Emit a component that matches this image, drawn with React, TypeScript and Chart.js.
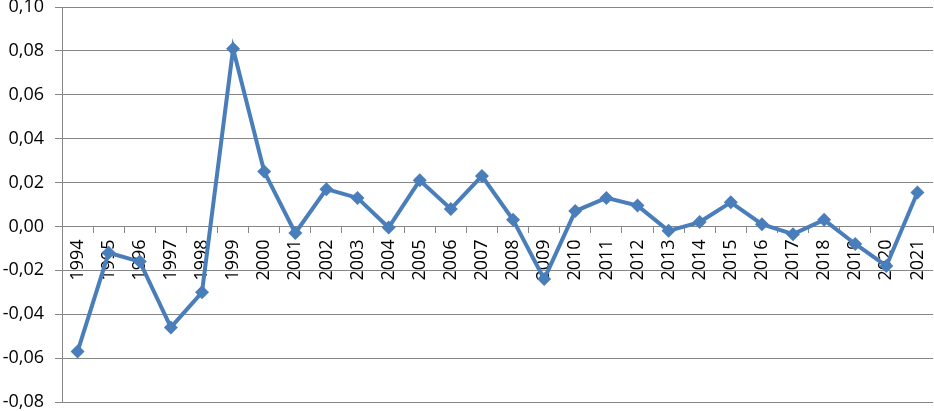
import React, { useEffect, useRef } from "react";
import { Chart, registerables } from "chart.js";

Chart.register(...registerables);

const years: string[] = [
  "1994", "1995", "1996", "1997", "1998", "1999", "2000", "2001", "2002", "2003",
  "2004", "2005", "2006", "2007", "2008", "2009", "2010", "2011", "2012", "2013",
  "2014", "2015", "2016", "2017", "2018", "2019", "2020", "2021",
];

const values: number[] = [
  -0.057, -0.012, -0.016, -0.046, -0.030, 0.081, 0.025, -0.003, 0.017, 0.013,
  -0.0005, 0.021, 0.008, 0.023, 0.003, -0.024, 0.007, 0.013, 0.0095, -0.002,
  0.002, 0.011, 0.001, -0.0035, 0.003, -0.008, -0.018, 0.0155,
];

const yMin = -0.08;
const yMax = 0.1;
const yStep = 0.02;

const LINE_COLOR = "#4A7EBB";
const GRID_COLOR = "#868686";
const FONT_FAMILY = "'Open Sans', 'Liberation Sans', sans-serif";

export default function App() {
  const canvasRef = useRef<HTMLCanvasElement | null>(null);

  useEffect(() => {
    if (!canvasRef.current) return;
    const chart = new Chart(canvasRef.current, {
      type: "line",
      data: {
        labels: years,
        datasets: [
          {
            data: values,
            borderColor: LINE_COLOR,
            backgroundColor: LINE_COLOR,
            borderWidth: 4,
            pointStyle: "rectRot",
            pointRadius: 7,
            pointBorderWidth: 0,
            pointBackgroundColor: LINE_COLOR,
            tension: 0,
            clip: false as any,
          },
        ],
      },
      options: {
        animation: false,
        responsive: true,
        maintainAspectRatio: false,
        layout: { autoPadding: false, padding: { top: 7, right: 1, bottom: 9, left: 0 } },
        plugins: {
          legend: { display: false },
          tooltip: { enabled: false },
        },
        scales: {
          x: {
            type: "category",
            position: { y: 0 } as any,
            offset: true,
            grid: {
              display: true,
              offset: true,
              drawOnChartArea: false,
              drawTicks: true,
              tickLength: 6,
              color: GRID_COLOR,
            },
            border: { display: true, color: GRID_COLOR, width: 1 },
            ticks: {
              autoSkip: false,
              minRotation: 90,
              maxRotation: 90,
              padding: 7,
              color: "#000",
              font: { family: FONT_FAMILY, size: 18 },
            },
            afterFit: (scale: any) => {
              scale.paddingLeft = 0;
              scale.paddingRight = 0;
            },
          },
          y: {
            type: "linear",
            min: yMin,
            max: yMax,
            grid: {
              color: GRID_COLOR,
              lineWidth: 1,
              tickLength: 7,
              drawTicks: true,
            },
            border: { display: true, color: GRID_COLOR, width: 1 },
            ticks: {
              stepSize: yStep,
              padding: 11,
              color: "#000",
              font: { family: FONT_FAMILY, size: 18 },
              callback: (v: any) => Number(v).toFixed(2).replace(".", ","),
            },
            afterFit: (scale: any) => {
              scale.width = 62;
              scale.paddingTop = 0;
              scale.paddingBottom = 0;
            },
          },
        },
      },
    });
    return () => chart.destroy();
  }, []);

  return (
    <div style={{ position: "absolute", left: 0, top: 0, width: 934, height: 411, background: "#fff" }}>
      <canvas ref={canvasRef} />
    </div>
  );
}
